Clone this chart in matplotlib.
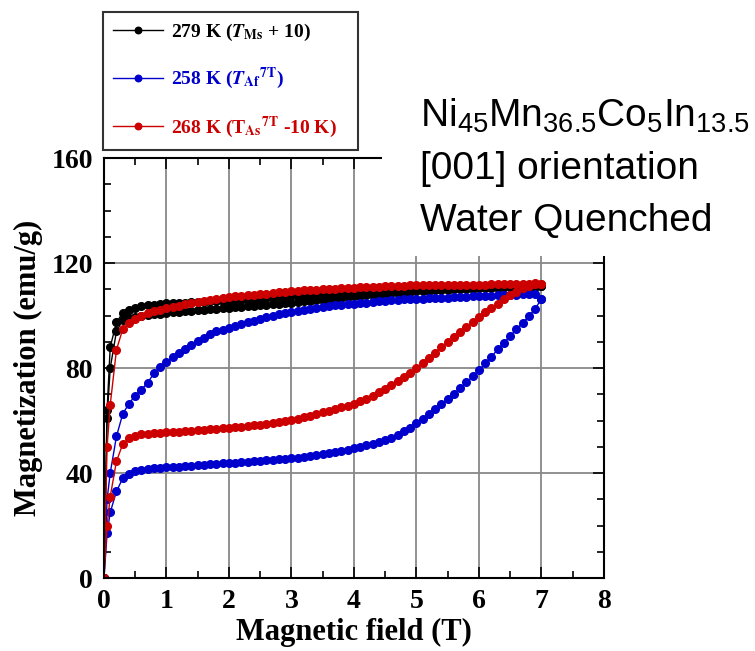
import matplotlib.pyplot as plt
from matplotlib.patches import Rectangle

plt.rcParams['font.family'] = ['Liberation Serif', 'DejaVu Serif']
plt.rcParams['mathtext.fontset'] = 'custom'
plt.rcParams['mathtext.rm'] = 'Liberation Sans'
plt.rcParams['mathtext.it'] = 'Liberation Sans:italic'

# magnetic field steps (T), shared by every branch
field = [0, 0.05, 0.1, 0.2, 0.3, 0.4, 0.5, 0.6, 0.7, 0.8, 0.9,
         1.0, 1.1, 1.2, 1.3, 1.4, 1.5, 1.6, 1.7, 1.8, 1.9,
         2.0, 2.1, 2.2, 2.3, 2.4, 2.5, 2.6, 2.7, 2.8, 2.9,
         3.0, 3.1, 3.2, 3.3, 3.4, 3.5, 3.6, 3.7, 3.8, 3.9,
         4.0, 4.1, 4.2, 4.3, 4.4, 4.5, 4.6, 4.7, 4.8, 4.9,
         5.0, 5.1, 5.2, 5.3, 5.4, 5.5, 5.6, 5.7, 5.8, 5.9,
         6.0, 6.1, 6.2, 6.3, 6.4, 6.5, 6.6, 6.7, 6.8, 6.9, 7.0]

# 279 K
m279_up = [0, 61, 80, 94.0, 98.3, 99.0, 99.5, 99.9, 100.2, 100.5, 100.8,
           101.0, 101.2, 101.4, 101.6, 101.8, 102.0, 102.2, 102.4, 102.6, 102.8,
           103.0, 103.2, 103.4, 103.6, 103.8, 104.0, 104.2, 104.4, 104.6, 104.8,
           105.0, 105.2, 105.5, 105.7, 105.9, 106.1, 106.4, 106.6, 106.8, 107.1,
           107.3, 107.5, 107.7, 107.9, 108.1, 108.3, 108.5, 108.7, 108.9, 109.1,
           109.2, 109.4, 109.5, 109.6, 109.8, 109.9, 110.0, 110.1, 110.2, 110.3,
           110.4, 110.5, 110.6, 110.7, 110.8, 110.9, 111.0, 111.0, 111.1, 111.1, 111.2]
m279_down = [0, 64, 88, 97.5, 101.0, 102.2, 103.0, 103.5, 103.9, 104.2, 104.5,
             104.7, 104.8, 104.9, 105.0, 105.1, 105.2, 105.3, 105.4, 105.5, 105.6,
             105.7, 105.8, 106.0, 106.1, 106.3, 106.4, 106.6, 106.8, 107.0, 107.1,
             107.3, 107.5, 107.7, 107.9, 108.1, 108.2, 108.4, 108.6, 108.8, 108.9,
             109.1, 109.2, 109.3, 109.4, 109.5, 109.6, 109.7, 109.8, 109.9, 110.0,
             110.1, 110.2, 110.3, 110.4, 110.5, 110.5, 110.6, 110.7, 110.8, 110.8,
             110.9, 111.0, 111.0, 111.1, 111.1, 111.2, 111.2, 111.3, 111.3, 111.3, 111.3]

# 258 K
m258_up = [0, 17, 25, 33, 38, 39.8, 40.6, 41.2, 41.6, 41.9, 42.1,
           42.3, 42.4, 42.5, 42.7, 42.8, 43.0, 43.1, 43.3, 43.5, 43.7,
           43.9, 44.0, 44.2, 44.3, 44.5, 44.6, 44.8, 45.0, 45.2, 45.4,
           45.6, 45.9, 46.2, 46.5, 46.8, 47.2, 47.6, 48.0, 48.5, 48.9,
           49.4, 50.0, 50.6, 51.2, 51.9, 52.6, 53.5, 54.6, 55.9, 57.3,
           58.9, 60.6, 62.4, 64.3, 66.2, 68.2, 70.3, 72.4, 74.6, 76.9,
           79.2, 81.8, 84.4, 87.1, 89.7, 92.3, 94.8, 97.3, 99.8, 102.6, 106.5]
m258_down = [0, 30, 40, 54, 62.5, 66.5, 69.5, 71.8, 74.5, 78.0, 80.5,
             82.2, 84.1, 85.8, 87.3, 88.8, 90.2, 91.6, 92.9, 94.1, 94.6,
             95.3, 96.0, 96.7, 97.4, 98.1, 98.7, 99.3, 99.9, 100.5, 101.0,
             101.5, 101.9, 102.3, 102.7, 103.0, 103.3, 103.6, 103.9, 104.2, 104.4,
             104.6, 104.8, 105.0, 105.2, 105.4, 105.6, 105.8, 106.0, 106.2, 106.3,
             106.4, 106.5, 106.6, 106.7, 106.8, 106.9, 107.0, 107.1, 107.2, 107.3,
             107.4, 107.5, 107.6, 107.7, 107.8, 107.9, 108.0, 108.1, 108.2, 108.2, 106.5]

# 268 K
m268_up = [0, 20, 31, 44.5, 51, 53.3, 54.2, 54.7, 55.0, 55.2, 55.4,
           55.5, 55.6, 55.8, 55.9, 56.1, 56.3, 56.5, 56.7, 56.9, 57.1,
           57.3, 57.5, 57.7, 58.0, 58.2, 58.5, 58.8, 59.1, 59.5, 59.8,
           60.2, 60.7, 61.2, 61.8, 62.4, 63.1, 63.7, 64.3, 65.0, 65.7,
           66.5, 67.4, 68.4, 69.5, 70.8, 72.2, 73.7, 75.2, 76.7, 78.3,
           79.9, 81.9, 83.9, 85.9, 87.9, 89.8, 91.8, 93.8, 95.7, 97.6,
           99.5, 101.2, 102.9, 104.6, 106.2, 107.7, 109.1, 110.4, 111.3, 111.9, 112.2]
m268_down = [0, 50, 66, 87.0, 94.8, 97.1, 98.9, 100.0, 100.9, 101.7, 102.3,
             102.8, 103.3, 103.8, 104.3, 104.8, 105.3, 105.7, 106.1, 106.5, 106.9,
             107.2, 107.4, 107.6, 107.8, 108.0, 108.2, 108.4, 108.7, 108.9, 109.1,
             109.3, 109.4, 109.6, 109.7, 109.9, 110.0, 110.2, 110.3, 110.5, 110.6,
             110.7, 110.8, 110.9, 111.0, 111.1, 111.2, 111.3, 111.4, 111.4, 111.5,
             111.5, 111.5, 111.6, 111.6, 111.6, 111.6, 111.7, 111.7, 111.7, 111.8,
             111.8, 111.8, 111.9, 111.9, 111.9, 112.0, 112.0, 112.1, 112.2, 112.3, 112.2]

labels = [r'279 K ($\mathbfit{T}_{\mathbf{Ms}}$ + 10)',
          r'258 K ($\mathbfit{T}_{\mathbf{Af}}{}^{\mathbf{7T}}$)',
          r'268 K (T$_{\mathbf{As}}{}^{\mathbf{7T}}$ -10 K)']
colors = ['black', '#0000cc', '#cc0000']
sample_lines = ['Ni$_{45}$Mn$_{36.5}$Co$_{5}$In$_{13.5}$', '[001] orientation', 'Water Quenched']

fig = plt.figure(figsize=(7.55, 6.51), dpi=100)
ax = fig.add_axes([0.1377, 0.1121, 0.6623, 0.6449])

series = [(m279_up, m279_down), (m258_up, m258_down), (m268_up, m268_down)]
for (up, down), c, lab in zip(series, colors, labels):
    ax.plot(field, up, '-o', color=c, lw=1, ms=5.5, label=lab)
    ax.plot(field[::-1], down[::-1], '-o', color=c, lw=1, ms=5.5)

ax.set_xlim(0, 8)
ax.set_ylim(0, 160)
ax.set_xticks(range(0, 9))
ax.set_yticks([0, 40, 80, 120, 160])
ax.set_xticks([i + 0.5 for i in range(8)], minor=True)
ax.set_yticks(range(0, 161, 10), minor=True)
ax.grid(True, which='major', color='#888888', lw=1.3)
ax.tick_params(which='both', direction='in', top=True, right=True, width=1.2)
ax.tick_params(which='major', length=8, labelsize=20, pad=8)
ax.tick_params(which='minor', length=5)
for lbl in ax.get_xticklabels() + ax.get_yticklabels():
    lbl.set_fontweight('bold')
for s in ax.spines.values():
    s.set_linewidth(1.5)
ax.set_xlabel('Magnetic field (T)', fontsize=22, fontweight='bold', labelpad=3)
ax.set_ylabel('Magnetization (emu/g)', fontsize=22, fontweight='bold', labelpad=6)

leg = fig.legend(loc='upper left', bbox_to_anchor=(0.1364, 0.7696, 0.338, 0.212),
                 mode='expand', borderaxespad=0, fancybox=False, edgecolor='black',
                 handlelength=2.6, handletextpad=0.4, labelspacing=1.2, borderpad=0.5,
                 labelcolor='linecolor', prop={'weight': 'bold', 'size': 14},
                 markerscale=0.85)
leg.get_frame().set_linewidth(1.5)
for t in leg.get_texts():
    t.set_math_fontfamily('stix')
for h in leg.legend_handles:
    h.set_markevery([1])

# white panel hiding the top right of the plot behind the sample name
fig.patches.append(Rectangle((0.506, 0.607), 0.5, 0.4, transform=fig.transFigure,
                             facecolor='white', edgecolor='none', zorder=2))
for i, line in enumerate(sample_lines):
    fig.text(0.556, 0.805 - i * 0.08, line, fontsize=28, family='Liberation Sans',
             va='baseline', zorder=3)

fig.savefig('out.png', dpi=100)
